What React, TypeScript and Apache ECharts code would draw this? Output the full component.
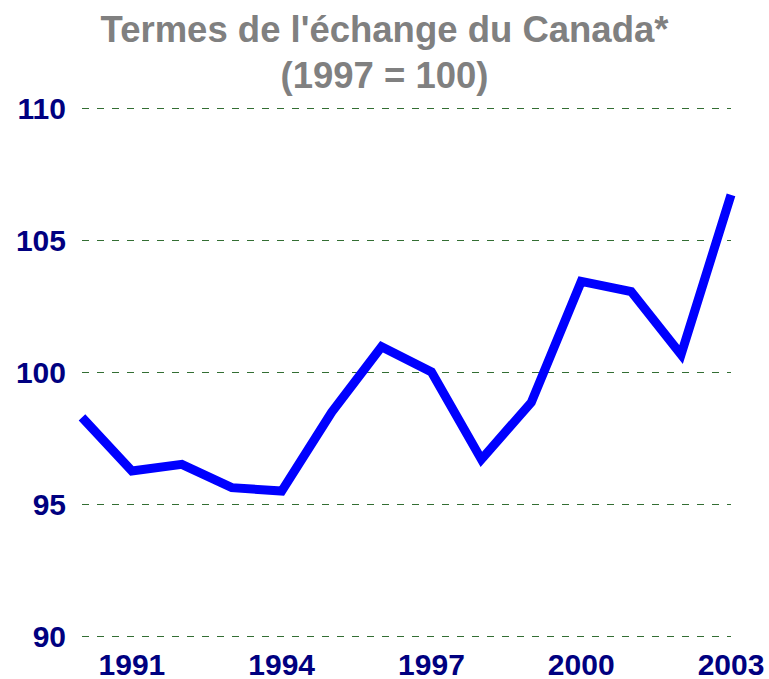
import React, { useEffect, useRef } from "react";
import * as echarts from "echarts";

const titleLines = ["Termes de l'échange du Canada*", "(1997 = 100)"];
const years = ["1990", "1991", "1992", "1993", "1994", "1995", "1996", "1997", "1998", "1999", "2000", "2001", "2002", "2003"];
const termsOfTrade = [98.28, 96.25, 96.5, 95.62, 95.49, 98.47, 100.96, 100, 96.69, 98.85, 103.43, 103.05, 100.66, 106.71];
const yMin = 90;
const yMax = 110;
const yStep = 5;

const FONT = "'Liberation Sans', Arial, Helvetica, sans-serif";

export default function App() {
  const ref = useRef<HTMLDivElement>(null);
  useEffect(() => {
    if (!ref.current) return;
    const chart = echarts.init(ref.current, null, { renderer: "svg" });
    chart.setOption({
      animation: false,
      backgroundColor: "#ffffff",
      title: {
        text: titleLines.join("\n"),
        left: "center",
        top: 1,
        textStyle: {
          color: "#808080",
          fontFamily: FONT,
          fontWeight: "bold",
          fontSize: 36.5,
          lineHeight: 46,
        },
      },
      grid: { left: 82, right: 38, top: 108, bottom: 42, containLabel: false },
      xAxis: {
        type: "category",
        data: years,
        boundaryGap: false,
        axisLine: { show: false },
        axisTick: { show: false },
        splitLine: { show: false },
        axisLabel: {
          interval: (index: number) => index % 3 === 1,
          color: "#000080",
          fontFamily: FONT,
          fontWeight: "bold",
          fontSize: 30,
          margin: 13,
          showMaxLabel: true,
        },
      },
      yAxis: {
        type: "value",
        min: yMin,
        max: yMax,
        interval: yStep,
        axisLine: { show: false },
        axisTick: { show: false },
        axisLabel: {
          color: "#000080",
          fontFamily: FONT,
          fontWeight: "bold",
          fontSize: 30,
          margin: 16,
        },
        splitLine: {
          show: true,
          lineStyle: { color: "#336e33", width: 1.2, type: [7, 8] },
        },
      },
      series: [
        {
          type: "line",
          data: termsOfTrade,
          showSymbol: false,
          symbol: "none",
          clip: true,
          lineStyle: { color: "#0000ff", width: 9, join: "miter" },
          itemStyle: { color: "#0000ff" },
        },
      ],
    });
    return () => chart.dispose();
  }, []);
  return (
    <div
      ref={ref}
      style={{ position: "fixed", left: 0, top: 0, width: 769, height: 679, background: "#fff" }}
    />
  );
}
